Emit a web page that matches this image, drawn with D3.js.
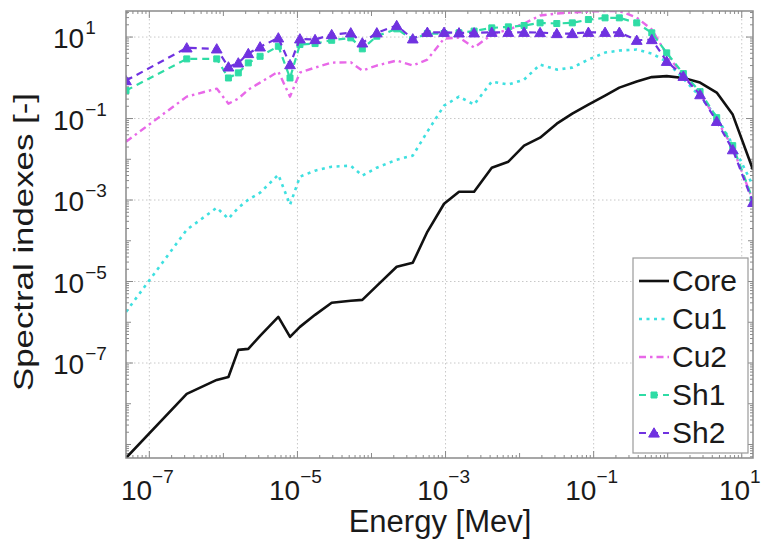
<!DOCTYPE html>
<html><head><meta charset="utf-8">
<script src="https://cdn.jsdelivr.net/npm/d3@7"></script>
<style>
body{margin:0;background:#fff}
svg{display:block}
text{font-family:"Liberation Sans",Arial,Helvetica,sans-serif;fill:#1a1a1a}
</style>
</head><body>
<svg id="chart" width="761" height="540"></svg>
<script>
// ---- data ----
const energy = [4.84e-8, 3.20e-7, 8.13e-7, 1.17e-6, 1.59e-6, 2.17e-6, 3.13e-6, 5.52e-6, 7.94e-6, 1.08e-5,
  1.73e-5, 2.90e-5, 5.25e-5, 7.52e-5, 1.18e-4, 2.19e-4, 3.61e-4, 5.68e-4, 9.55e-4, 1.52e-3,
  2.43e-3, 4.21e-3, 7.05e-3, 1.15e-2, 1.89e-2, 3.18e-2, 5.15e-2, 8.49e-2, 0.1426, 0.2223,
  0.382, 0.610, 0.970, 1.626, 2.735, 4.59, 7.55, 14.19];
const core = [4.66e-10, 1.74e-8, 3.85e-8, 4.55e-8, 2.10e-7, 2.22e-7, 4.63e-7, 1.36e-6, 4.38e-7, 7.71e-7,
  1.52e-6, 3.00e-6, 3.36e-6, 3.55e-6, 7.84e-6, 2.30e-5, 2.88e-5, 1.66e-4, 8.11e-4, 1.60e-3,
  1.60e-3, 6.22e-3, 8.73e-3, 0.0216, 0.0340, 0.0750, 0.132, 0.220, 0.366, 0.574,
  0.807, 1.04, 1.10, 0.984, 0.762, 0.433, 0.125, 5.55e-3];
const cu1 = [1.80e-6, 1.86e-4, 6.47e-4, 3.48e-4, 6.47e-4, 1.02e-3, 1.51e-3, 4.18e-3, 7.67e-4, 3.74e-3,
  5.25e-3, 6.58e-3, 6.97e-3, 3.96e-3, 6.22e-3, 9.78e-3, 0.0123, 0.0476, 0.207, 0.345,
  0.220, 0.807, 0.681, 0.904, 2.11, 1.59, 1.78, 2.80, 4.16, 4.66,
  4.93, 3.93, 2.50, 0.955, 0.345, 0.111, 0.0229, 2.24e-3];
const cu2 = [0.0270, 0.345, 0.543, 0.232, 0.308, 0.513, 0.762, 1.42, 0.345, 1.34,
  1.78, 2.36, 2.40, 1.50, 2.00, 2.65, 2.00, 2.80, 9.19, 9.72,
  5.52, 11.5, 15.3, 21.5, 33.7, 37.8, 40.0, 42.4, 43.6, 43.6,
  30.1, 15.3, 3.72, 1.13, 0.409, 0.094, 0.0193, 9.6e-4];
const sh1 = [0.485, 2.91, 2.91, 0.99, 1.32, 2.32, 3.37, 5.94, 0.99, 6.55,
  6.92, 8.34, 9.55, 5.13, 10.5, 15.9, 8.69, 12.2, 12.2, 12.7,
  14.0, 16.8, 17.8, 19.2, 22.3, 21.5, 22.3, 26.9, 29.6, 29.6,
  22.3, 12.7, 4.09, 1.27, 0.458, 0.105, 0.0216, 1.0e-3];
const sh2 = [0.853, 5.43, 5.13, 1.85, 2.32, 3.94, 5.74, 9.55, 2.11, 9.04,
  8.69, 11.5, 12.7, 7.19, 12.7, 19.2, 9.04, 13.1, 13.1, 12.7,
  12.7, 13.1, 13.1, 13.1, 12.9, 12.2, 12.2, 13.1, 13.1, 13.1,
  8.34, 8.69, 2.54, 1.09, 0.386, 0.0853, 0.0172, 8.73e-4];
const seriesNames = ["Core", "Cu1", "Cu2", "Sh1", "Sh2"];
const xTickExp = [-7, -5, -3, -1, 1];
const yTickExp = [1, -1, -3, -5, -7];
const xLabel = "Energy [Mev]";
const yLabel = "Spectral indexes [-]";

// ---- styles ----
const styles = {
  Core: {color: "#111111", dash: null, width: 2.6, marker: null},
  Cu1:  {color: "#3fe0e0", dash: "3,4.5", width: 2.6, marker: null},
  Cu2:  {color: "#e868e8", dash: "7,4,2.5,4", width: 2.4, marker: null},
  Sh1:  {color: "#2fdca5", dash: "7,5", width: 2.2, marker: d3.symbolSquare, msize: 36},
  Sh2:  {color: "#7032e0", dash: "7,5", width: 2.2, marker: d3.symbolTriangle, msize: 50}
};
const seriesData = {Core: core, Cu1: cu1, Cu2: cu2, Sh1: sh1, Sh2: sh2};

const M = {left: 126, right: 753, top: 11, bottom: 458};
const svg = d3.select("#chart");

const x = d3.scaleLog().domain([energy[0], energy[energy.length - 1]]).range([M.left, M.right]);
const y = d3.scaleLog().domain([d3.min(core), d3.max(cu2)]).range([M.bottom, M.top]);

svg.append("rect").attr("x", 0).attr("y", 0).attr("width", 761).attr("height", 540).attr("fill", "#fff");

// grid (major labelled decades)
const grid = svg.append("g").attr("stroke", "#c8c8c8").attr("stroke-width", 1).attr("stroke-dasharray", "1.5,2.5");
xTickExp.forEach(e => {
  const v = Math.pow(10, e);
  grid.append("line").attr("x1", x(v)).attr("x2", x(v)).attr("y1", M.top).attr("y2", M.bottom);
});
yTickExp.forEach(e => {
  const v = Math.pow(10, e);
  grid.append("line").attr("y1", y(v)).attr("y2", y(v)).attr("x1", M.left).attr("x2", M.right);
});

// minor / major tick marks on all four sides
const ticks = svg.append("g").attr("stroke", "#8a8a8a").attr("stroke-width", 1);
function inside(v, dom) { return v >= dom[0] && v <= dom[1]; }
for (let e = -8; e <= 1; e++) {
  for (let m = 1; m <= 9; m++) {
    const v = m * Math.pow(10, e);
    if (!inside(v, x.domain())) continue;
    const L = (m === 1) ? (xTickExp.includes(e) ? 7 : 5) : 3;
    ticks.append("line").attr("x1", x(v)).attr("x2", x(v)).attr("y1", M.bottom).attr("y2", M.bottom - L);
    ticks.append("line").attr("x1", x(v)).attr("x2", x(v)).attr("y1", M.top).attr("y2", M.top + L);
  }
}
for (let e = -10; e <= 1; e++) {
  for (let m = 1; m <= 9; m++) {
    const v = m * Math.pow(10, e);
    if (!inside(v, y.domain())) continue;
    const L = (m === 1) ? (yTickExp.includes(e) ? 7 : 5) : 3;
    ticks.append("line").attr("y1", y(v)).attr("y2", y(v)).attr("x1", M.left).attr("x2", M.left + L);
    ticks.append("line").attr("y1", y(v)).attr("y2", y(v)).attr("x1", M.right).attr("x2", M.right - L);
  }
}

// clip
svg.append("clipPath").attr("id", "clip").append("rect")
  .attr("x", M.left).attr("y", M.top).attr("width", M.right - M.left).attr("height", M.bottom - M.top);

const plot = svg.append("g").attr("clip-path", "url(#clip)");
const line = d3.line().x(d => x(d[0])).y(d => y(d[1]));

seriesNames.forEach(name => {
  const st = styles[name];
  const pts = energy.map((e, i) => [e, seriesData[name][i]]);
  plot.append("path").datum(pts)
    .attr("d", line).attr("fill", "none")
    .attr("stroke", st.color).attr("stroke-width", st.width)
    .attr("stroke-dasharray", st.dash).attr("stroke-linejoin", "round");
  if (st.marker) {
    const sym = d3.symbol().type(st.marker).size(st.msize);
    plot.append("g").selectAll("path").data(pts).join("path")
      .attr("d", sym)
      .attr("transform", d => `translate(${x(d[0])},${y(d[1]) + (st.marker === d3.symbolTriangle ? 1 : 0)})`)
      .attr("fill", st.color).attr("stroke", st.color).attr("stroke-width", 1);
  }
});

// axes box
svg.append("rect").attr("x", M.left).attr("y", M.top)
  .attr("width", M.right - M.left).attr("height", M.bottom - M.top)
  .attr("fill", "none").attr("stroke", "#8a8a8a").attr("stroke-width", 1.5);

// x tick labels
xTickExp.forEach(e => {
  const t = svg.append("text").attr("x", x(Math.pow(10, e)) - 2).attr("y", 500)
    .attr("text-anchor", "middle").attr("font-size", 28);
  t.append("tspan").text("10");
  t.append("tspan").attr("dy", -17).attr("font-size", 19).text(e < 0 ? "\u2212" + (-e) : String(e));
});
// y tick labels
yTickExp.forEach(e => {
  const yy = y(Math.pow(10, e));
  const t = svg.append("text").attr("x", 53).attr("y", yy + 11).attr("font-size", 28);
  t.append("tspan").text("10");
  t.append("tspan").attr("dy", -14).attr("dx", 1).attr("font-size", 19).text(e < 0 ? "\u2212" + (-e) : String(e));
});

// axis labels
svg.append("text").attr("x", 440).attr("y", 532)
  .attr("text-anchor", "middle").attr("font-size", 31).text(xLabel);
svg.append("text").attr("transform", "translate(33,242) rotate(-90)")
  .attr("text-anchor", "middle").attr("font-size", 28)
  .attr("textLength", 298).attr("lengthAdjust", "spacingAndGlyphs").text(yLabel);

// legend
const lg = svg.append("g");
lg.append("rect").attr("x", 633).attr("y", 258).attr("width", 115).attr("height", 195)
  .attr("fill", "#fff").attr("stroke", "#9a9a9a").attr("stroke-width", 1.2);
seriesNames.forEach((name, i) => {
  const st = styles[name];
  const cy = 281 + i * 38;
  lg.append("line").attr("x1", 639).attr("x2", 669).attr("y1", cy).attr("y2", cy)
    .attr("stroke", st.color).attr("stroke-width", st.width).attr("stroke-dasharray", st.dash);
  if (st.marker) {
    lg.append("path").attr("d", d3.symbol().type(st.marker).size(st.msize))
      .attr("transform", `translate(654,${cy + (st.marker === d3.symbolTriangle ? 1 : 0)})`)
      .attr("fill", st.color).attr("stroke", st.color);
  }
  lg.append("text").attr("x", 672).attr("y", cy + 10).attr("font-size", 30).text(name);
});
</script>
</body></html>
